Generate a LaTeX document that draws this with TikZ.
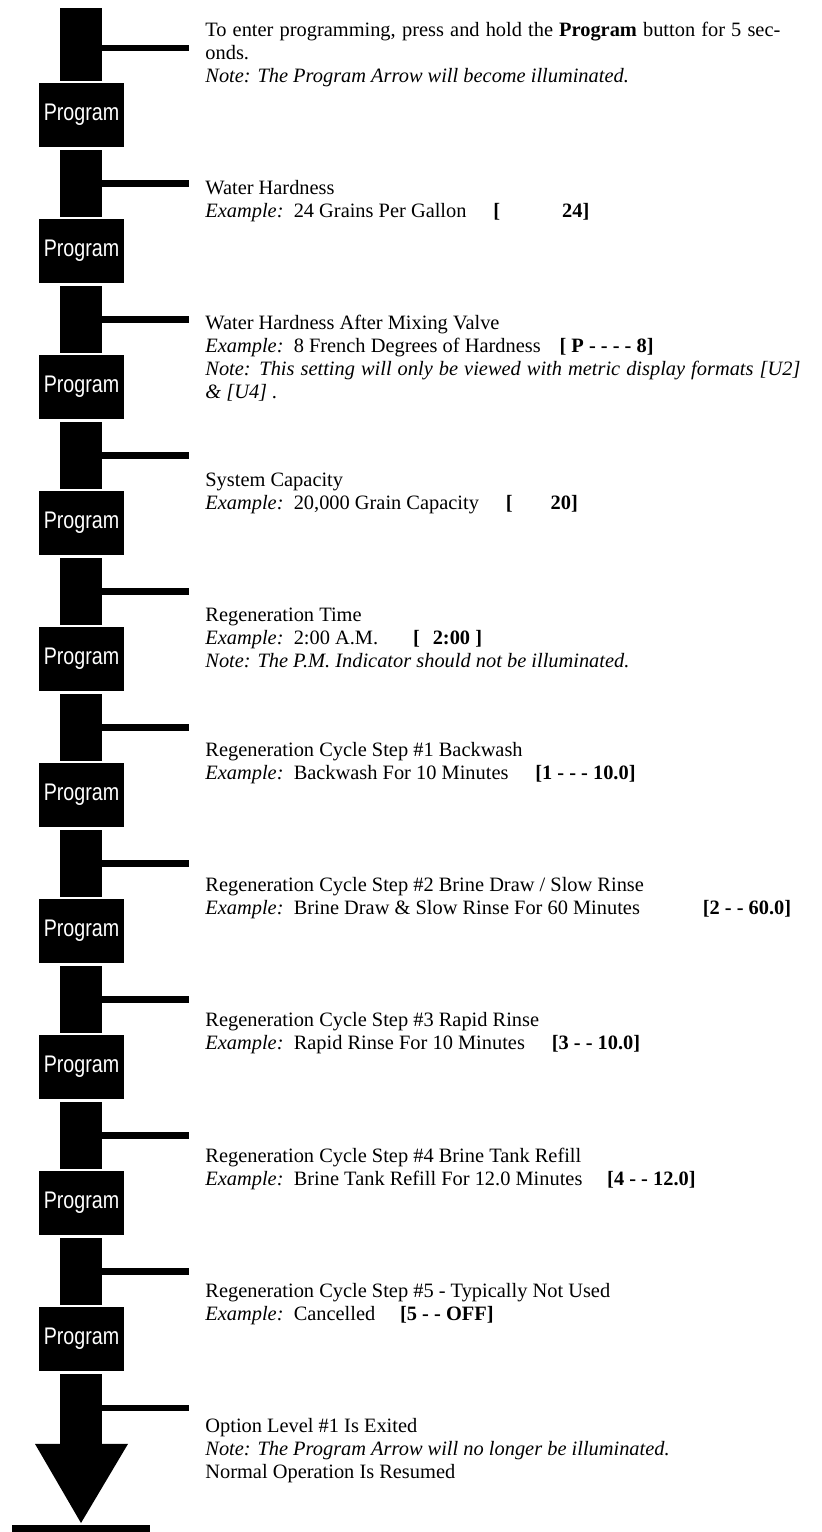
\documentclass[tikz,border=0pt]{standalone}
\usepackage{fontspec}
\setmainfont{Liberation Serif}
\newfontfamily\progfont[FakeStretch=0.82]{Liberation Sans}
\begin{document}
\begin{tikzpicture}[x=0.5pt,y=-0.5pt,
  shaft/.style={fill=black,inner sep=0pt,minimum width=21pt,minimum height=33.5pt},
  progbox/.style={fill=black,inner sep=0pt,minimum width=42.5pt,minimum height=32pt,
    text=white,font=\progfont\fontsize{12}{12}\selectfont},
  branch/.style={line width=3.2pt},
  txt/.style={anchor=base west,inner sep=0pt,font=\fontsize{10.2}{12}\selectfont},
  val/.style={anchor=base west,inner sep=0pt,font=\fontsize{10.2}{12}\selectfont\bfseries}]
\useasboundingbox (0,0) rectangle (822,1532);
% shaft segments
\node[shaft,minimum height=36.5pt] (s0) at (81,44.5) {};
\foreach \k in {1,...,9}{
  \node[shaft] (s\k) at (81,{47.5+136*\k}) {};
}
\node[shaft,minimum height=35pt] (s10) at (81,1408.5) {};
% program boxes
\foreach \k in {1,...,10}{
  \node[progbox] (p\k) at (81.5,{115+136*(\k-1)}) {Program};
}
% branches
\foreach \k in {1,...,9}{
  \coordinate (e\k) at ([xshift=43.5pt]s\k.east);
  \draw[branch] (s\k.east) -- (e\k);
}
\coordinate (e0) at (189,48);
\draw[branch] (s0.east |- e0) -- (e0);
\coordinate (e10) at (189,1408);
\draw[branch] (s10.east |- e10) -- (e10);
% arrow head and base bar
\coordinate (tip) at (81,1523);
\fill (s10.south -| 35,0) -- (s10.south -| 128,0) -- (tip) -- cycle;
\fill (12,1525) rectangle (150,1532);
% texts
\node[txt] (t1a) at (205,36) {\makebox[287.5pt][s]{To enter programming, press and hold the \textbf{Program} button for 5 sec-}};
\node[txt] (t1b) at (205,59) {onds.};
\node[txt] (t1c) at (205,82) {\textit{Note: The Program Arrow will become illuminated.}};
\node[txt] (t2a) at (205,194) {Water Hardness};
\node[txt] (t2b) at (205,217) {\textit{Example:}\ \ 24 Grains Per Gallon};
\node[val] (v2) at ([xshift=13pt]t2b.base east) {[\hspace{31pt}24]};
\node[txt] (t3a) at (205,329) {Water Hardness After Mixing Valve};
\node[txt] (t3b) at (205,352) {\textit{Example:}\ \ 8 French Degrees of Hardness};
\node[val] (v3) at ([xshift=9pt]t3b.base east) {[ P - - - - 8]};
\node[txt] (t3c) at (205,375) {\makebox[297.5pt][s]{\itshape Note: This setting will only be viewed with metric display formats [U2]}};
\node[txt] (t3d) at (205,398) {\textit{\& [U4] .}};
\node[txt] (t4a) at (205,486) {System Capacity};
\node[txt] (t4b) at (205,509) {\textit{Example:}\ \ 20,000 Grain Capacity};
\node[val] (v4) at ([xshift=13pt]t4b.base east) {[\hspace{19pt}20]};
\node[txt] (t5a) at (205,621) {Regeneration Time};
\node[txt] (t5b) at (205,644) {\textit{Example:}\ \ 2:00 A.M.};
\node[val] (v5) at ([xshift=17pt]t5b.base east) {[\hspace{6.5pt}2:00 ]};
\node[txt] (t5c) at (205,667) {\textit{Note: The P.M. Indicator should not be illuminated.}};
\node[txt] (t6a) at (205,756) {Regeneration Cycle Step \#1 Backwash};
\node[txt] (t6b) at (205,779) {\textit{Example:}\ \ Backwash For 10 Minutes};
\node[val] (v6) at ([xshift=13pt]t6b.base east) {[1 - - - 10.0]};
\node[txt] (t7a) at (205,891) {Regeneration Cycle Step \#2 Brine Draw / Slow Rinse};
\node[txt] (t7b) at (205,914) {\textit{Example:}\ \ Brine Draw \& Slow Rinse For 60 Minutes};
\node[val] (v7) at ([xshift=31pt]t7b.base east) {[2 - - 60.0]};
\node[txt] (t8a) at (205,1026) {Regeneration Cycle Step \#3 Rapid Rinse};
\node[txt] (t8b) at (205,1049) {\textit{Example:}\ \ Rapid Rinse For 10 Minutes};
\node[val] (v8) at ([xshift=13pt]t8b.base east) {[3 - - 10.0]};
\node[txt] (t9a) at (205,1162) {Regeneration Cycle Step \#4 Brine Tank Refill};
\node[txt] (t9b) at (205,1185) {\textit{Example:}\ \ Brine Tank Refill For 12.0 Minutes};
\node[val] (v9) at ([xshift=12pt]t9b.base east) {[4 - - 12.0]};
\node[txt] (t10a) at (205,1297) {Regeneration Cycle Step \#5 - Typically Not Used};
\node[txt] (t10b) at (205,1320) {\textit{Example:}\ \ Cancelled};
\node[val] (v10) at ([xshift=12pt]t10b.base east) {[5 - - OFF]};
\node[txt] (t11a) at (205,1432) {Option Level \#1 Is Exited};
\node[txt] (t11b) at (205,1455) {\textit{Note: The Program Arrow will no longer be illuminated.}};
\node[txt] (t11c) at (205,1478) {Normal Operation Is Resumed};
\end{tikzpicture}
\end{document}
